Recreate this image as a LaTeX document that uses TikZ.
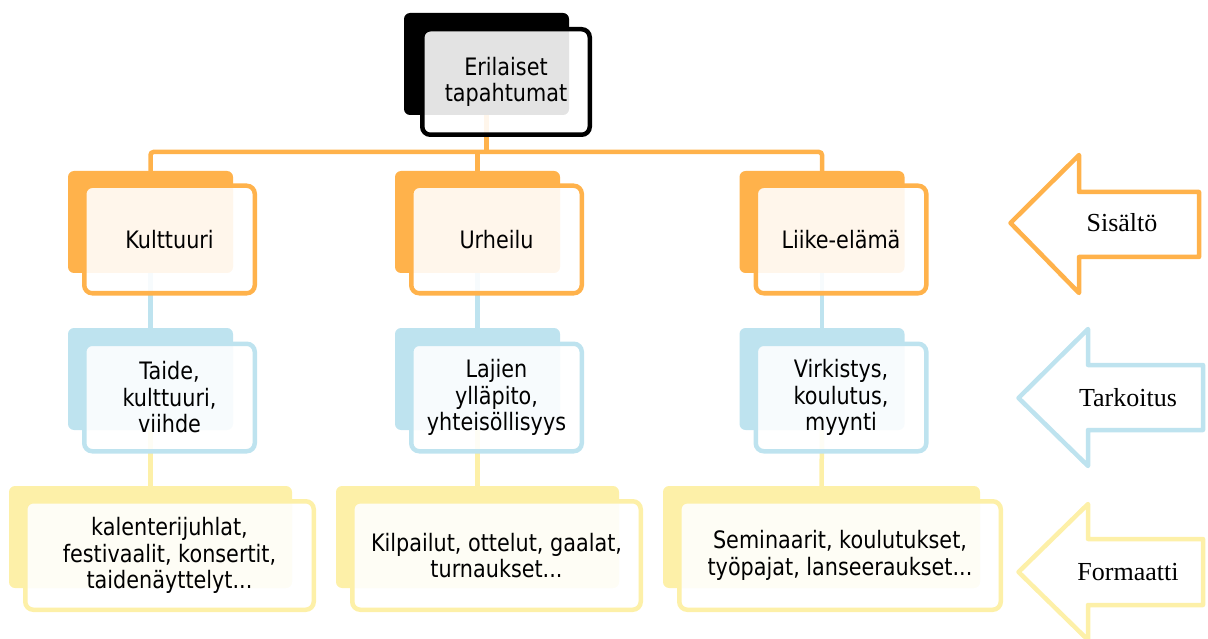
\documentclass[tikz,border=0pt]{standalone}
\usepackage{fontspec}
\setmainfont{DejaVu Sans}[FakeStretch=0.865]
\newfontfamily\nuolifont{Liberation Serif}
\usepackage{tikz}
\usetikzlibrary{positioning, calc}

\definecolor{oranssi}{HTML}{FFB24B}
\definecolor{sininen}{HTML}{BEE3EF}
\definecolor{keltainen}{HTML}{FDF0A8}

\begin{document}
\begin{tikzpicture}[
    x=1pt, y=-1pt,
    every node/.style={font=\fontsize{24}{26.5}\selectfont, text=black}, % laatikoiden fontti
    takaosa/.style={rectangle, rounded corners=6pt, inner sep=0pt,
        minimum width=165pt, minimum height=102pt}, % taustalaatikko
    etuosa/.style={rectangle, draw, line width=4.5pt, rounded corners=8pt,
        fill=white, fill opacity=0.89, text opacity=1, align=center,
        minimum width=170.5pt, minimum height=107.5pt, inner sep=2pt}, % tekstilaatikko
    linkki/.style={line width=4.5pt, rounded corners=3pt}, % yhdysviivat
    nuoli/.style={line width=4.5pt, line join=round, fill=white}, % oikean reunan nuolet
    nuoliteksti/.style={font=\nuolifont\fontsize{26}{30}\selectfont}
]
    \useasboundingbox (0,0) rectangle (1208,639);

    % 1. taustalaatikot
    \node[takaosa, fill=black] (paa) at (486.5,64) {};
    \node[takaosa, fill=oranssi] (kult) at (150.5,222) {};
    \node[takaosa, fill=oranssi] (urh) at (477.5,222) {};
    \node[takaosa, fill=oranssi] (liike) at (822,222) {};
    \node[takaosa, fill=sininen] (taide) at (150.5,379) {};
    \node[takaosa, fill=sininen] (lajit) at (477.5,379) {};
    \node[takaosa, fill=sininen] (virk) at (822,379) {};
    \node[takaosa, fill=keltainen, minimum width=283pt] (kal) at (150.5,537) {};
    \node[takaosa, fill=keltainen, minimum width=283pt] (kilp) at (477.5,537) {};
    \node[takaosa, fill=keltainen, minimum width=317pt] (sem) at (821.5,537) {};

    % 2. yhdysviivat
    \coordinate (vayla) at (486.5,152);
    \draw[linkki, oranssi] (paa.south) -- (vayla);
    \draw[linkki, oranssi] (kult.north) |- (vayla) -| (liike.north);
    \draw[linkki, oranssi] (urh.north) -- (urh.north |- vayla);
    \draw[linkki, sininen] (kult.south) -- (taide.north);
    \draw[linkki, sininen] (urh.south) -- (lajit.north);
    \draw[linkki, sininen] (liike.south) -- (virk.north);
    \draw[linkki, keltainen] (taide.south) -- (kal.north);
    \draw[linkki, keltainen] (lajit.south) -- (kilp.north);
    \draw[linkki, keltainen] (virk.south) -- (sem.north);

    % 3. tekstilaatikot (siirretty oikealle alas)
    \node[etuosa, draw=black, minimum width=167.5pt, minimum height=105.5pt] (paaT) at ($(paa)+(19.5,18)$) {Erilaiset\\tapahtumat};
    \node[etuosa, draw=oranssi] (kultT) at ($(kult)+(19,17.5)$) {Kulttuuri};
    \node[etuosa, draw=oranssi] (urhT) at ($(urh)+(19,17.5)$) {Urheilu};
    \node[etuosa, draw=oranssi] (liikeT) at ($(liike)+(19,17.5)$) {Liike-elämä};
    \node[etuosa, draw=sininen] (taideT) at ($(taide)+(19,18.5)$) {Taide,\\kulttuuri,\\viihde};
    \node[etuosa, draw=sininen] (lajitT) at ($(lajit)+(19,18.5)$) {Lajien\\ylläpito,\\yhteisöllisyys};
    \node[etuosa, draw=sininen] (virkT) at ($(virk)+(19,18.5)$) {Virkistys,\\koulutus,\\myynti};
    \node[etuosa, draw=keltainen, minimum width=288.5pt, minimum height=108.5pt] (kalT) at ($(kal)+(19,18.5)$) {kalenterijuhlat,\\festivaalit, konsertit,\\taidenäyttelyt...};
    \node[etuosa, draw=keltainen, minimum width=288.5pt, minimum height=108.5pt] (kilpT) at ($(kilp)+(19,18.5)$) {Kilpailut, ottelut, gaalat,\\turnaukset...};
    \node[etuosa, draw=keltainen, minimum width=321.5pt, minimum height=108.5pt] (semT) at ($(sem)+(18.5,18.5)$) {Seminaarit, koulutukset,\\työpajat, lanseeraukset...};

    % 4. nuolet oikealla
    \draw[nuoli, draw=oranssi] (1010.5,223) -- (1079,155) -- (1079,192) -- (1199,192)
        -- (1199,257) -- (1079,257) -- (1079,293) -- cycle;
    \node[nuoliteksti] (sisalto) at (1122,223) {Sisältö};
    \draw[nuoli, draw=sininen] (1018.5,398) -- (1088,329) -- (1088,365) -- (1203,365)
        -- (1203,430) -- (1088,430) -- (1088,466) -- cycle;
    \node[nuoliteksti] (tarkoitus) at (1128,398) {Tarkoitus};
    \draw[nuoli, draw=keltainen] (1018.5,572) -- (1088,504) -- (1088,539) -- (1203,539)
        -- (1203,605) -- (1088,605) -- (1088,640) -- cycle;
    \node[nuoliteksti] (formaatti) at (1128,572) {Formaatti};

\end{tikzpicture}
\end{document}
